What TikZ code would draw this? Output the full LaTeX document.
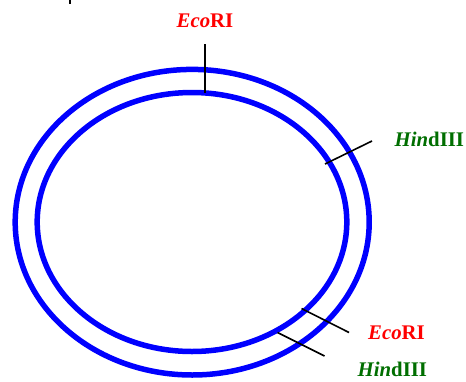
\documentclass[tikz,border=0pt]{standalone}
\usepackage{fontspec}
\setmainfont{Liberation Serif}
\usepackage{xcolor}
\usetikzlibrary{positioning}
\definecolor{DarkGreen}{RGB}{0,110,0}
\definecolor{PureRed}{RGB}{255,0,0}
\tikzset{
	strand/.style={line width=5.5pt, blue},
	cutline/.style={line width=1.6pt, black},
	enzlabel/.style={inner sep=0pt, font=\fontsize{20.8}{24}\selectfont\bfseries},
}

\begin{document}
\begin{tikzpicture}[x=1pt, y=-1pt]
		\useasboundingbox (0,0) rectangle (466,381);
		
		% 双链 DNA 质粒
		\draw[strand] (192.2,222.2) ellipse [x radius=177, y radius=152.8];
		\draw[strand] (192,222) ellipse [x radius=154.8, y radius=129.5];
		
		% 酶切位点
		\coordinate (E1a) at (205,44);
		\coordinate (E1b) at (205,92.5);
		\coordinate (H1a) at (325,164);
		\coordinate (H1b) at (372,141);
		\coordinate (E2a) at (301.5,308.5);
		\coordinate (E2b) at (349,332.5);
		\coordinate (H2a) at (277.5,332.5);
		\coordinate (H2b) at (324.5,356);
		\draw[cutline] (E1a) -- (E1b);
		\draw[cutline] (H1a) -- (H1b);
		\draw[cutline] (E2a) -- (E2b);
		\draw[cutline] (H2a) -- (H2b);
		\draw[cutline] (70,0) -- (70,3.5);
		
		\node[enzlabel, PureRed, anchor=base] (eco1) at (205,27.7) {{\itshape Eco}RI};
		\node[enzlabel, DarkGreen, anchor=base west] (hind1) at (394.5,146) {{\itshape Hin}dIII};
		\node[enzlabel, PureRed, anchor=base west] (eco2) at (368,339.7) {{\itshape Eco}RI};
		\node[enzlabel, DarkGreen, anchor=base west] (hind2) at (357.5,376) {{\itshape Hin}dIII};
		
	\end{tikzpicture}
\end{document}
